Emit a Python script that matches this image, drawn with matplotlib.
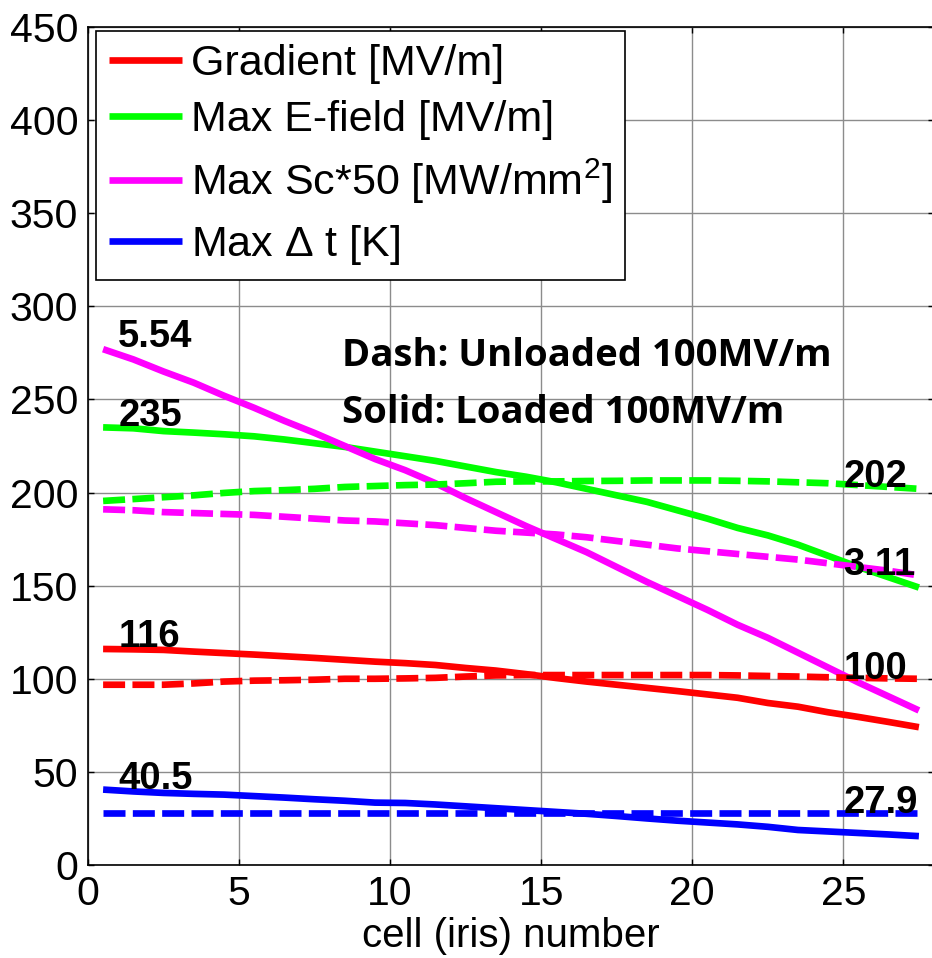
import matplotlib
matplotlib.use("Agg")
import matplotlib.pyplot as plt

# cell (iris) positions
cells = [0.5, 1.5, 2.5, 3.5, 4.5, 5.5, 6.5, 7.5, 8.5, 9.5, 10.5, 11.5, 12.5, 13.5,
         14.5, 15.5, 16.5, 17.5, 18.5, 19.5, 20.5, 21.5, 22.5, 23.5, 24.5, 25.5, 26.5, 27.5]

# loaded 100 MV/m (solid)
grad_loaded = [116, 115.8, 115.5, 114.6, 113.8, 113.0, 112.1, 111.2, 110.2, 109.2, 108.4, 107.4,
               105.8, 104.4, 102.5, 100.4, 98.5, 96.8, 95.1, 93.4, 91.6, 89.8, 87.0, 85.0, 82.0,
               79.5, 76.8, 74.0]
efield_loaded = [235, 234.5, 233, 232.2, 231.3, 230.2, 228.5, 226.5, 224.5, 222, 219.5, 217, 214,
                 211, 208.5, 205.5, 202, 198.5, 195, 190.5, 186, 181, 177, 172, 166, 160, 154.5, 149]
sc_loaded = [277, 271.5, 265, 259, 252, 245.5, 238.5, 232, 225, 218, 212, 205, 197, 189.5, 182,
             175, 168, 160, 152, 144.5, 137, 129, 122, 114, 106, 98, 90.5, 83]
dt_loaded = [40.5, 39.5, 38.7, 38.2, 37.8, 37.0, 36.2, 35.3, 34.5, 33.5, 33.3, 32.5, 31.5, 30.5,
             29.5, 28.5, 27.5, 26.3, 25.0, 23.8, 22.8, 21.8, 20.5, 18.8, 18.0, 17.2, 16.4, 15.5]

# unloaded 100 MV/m (dashed)
grad_unloaded = [96.8, 96.8, 96.8, 97.5, 98.5, 99.0, 99.2, 99.5, 100.0, 100.0, 100.2, 100.5,
                 101.2, 101.8, 102.0, 102.0, 102.0, 102.0, 102.0, 102.0, 102.0, 101.8, 101.5,
                 101.2, 100.8, 100.5, 100.2, 100.0]
efield_unloaded = [195.5, 196.5, 197.5, 198.5, 199.8, 200.8, 201.3, 202, 203, 203.5, 204, 204.3,
                   205, 205.8, 206, 206, 206.2, 206.3, 206.5, 206.5, 206.5, 206.3, 206, 205.5,
                   205, 204, 203, 202]
sc_unloaded = [191, 190.5, 189.5, 189, 188.5, 188, 187, 186, 185, 184.5, 183.5, 182.5, 181, 179.5,
               178.5, 177.5, 176, 174, 172, 170, 168.5, 167, 165.5, 164, 162, 160, 158, 155.5]
dt_unloaded = [27.9, 27.9, 27.9, 27.9, 27.9, 27.9, 27.9, 27.9, 27.9, 27.9, 27.9, 27.9, 27.9, 27.9,
               27.9, 27.9, 27.9, 27.9, 27.9, 27.9, 27.9, 27.9, 27.9, 27.9, 27.9, 27.9, 27.9, 27.9]

labels = ["Gradient [MV/m]", "Max E-field [MV/m]",
          "Max Sc*50 [MW/mm$^2$]", "Max $\\Delta$ t [K]"]
colors = ["#ff0000", "#00ff00", "#ff00ff", "#0000ff"]

plt.rcParams["font.family"] = ["Liberation Sans", "DejaVu Sans"]
plt.rcParams["mathtext.fontset"] = "custom"
plt.rcParams["mathtext.rm"] = "Liberation Sans"
plt.rcParams["mathtext.it"] = "Liberation Sans"

fig = plt.figure(figsize=(9.32, 9.58), dpi=100)
ax = fig.add_axes([88 / 932, 93 / 958, 846 / 932, 838 / 958])

lw = 4.8
dash = (0, (3.3, 1.1))
loaded = [grad_loaded, efield_loaded, sc_loaded, dt_loaded]
unloaded = [grad_unloaded, efield_unloaded, sc_unloaded, dt_unloaded]
for vals, c, lab in zip(loaded, colors, labels):
    ax.plot(cells, vals, color=c, lw=lw, label=lab, solid_capstyle="butt")
for vals, c in zip(unloaded, colors):
    ax.plot(cells, vals, color=c, lw=lw, linestyle=dash, dash_capstyle="butt")

# values at the ends (Sc label is the raw value, curve is Sc*50)
lab_kw = dict(fontsize=27.5, fontweight="bold", va="baseline", ha="left")
ax.text(1.0, sc_loaded[0] + 1, "%.2f" % (sc_loaded[0] / 50), **lab_kw)
ax.text(1.0, efield_loaded[0] + 1, "%d" % efield_loaded[0], **lab_kw)
ax.text(1.0, grad_loaded[0] + 1, "%d" % grad_loaded[0], **lab_kw)
ax.text(1.0, dt_loaded[0] + 0.5, "%.1f" % dt_loaded[0], **lab_kw)
ax.text(25.0, efield_unloaded[-1] + 1, "%d" % efield_unloaded[-1], **lab_kw)
ax.text(25.0, sc_unloaded[-1], "%.2f" % (sc_unloaded[-1] / 50), **lab_kw)
ax.text(25.0, grad_unloaded[-1], "%d" % grad_unloaded[-1], **lab_kw)
ax.text(25.0, dt_unloaded[-1], "%.1f" % dt_unloaded[-1], **lab_kw)

note_kw = dict(fontsize=27.5, fontweight="bold", family=["Open Sans", "DejaVu Sans"],
               va="baseline", ha="left")
ax.text(8.4, 268, "Dash: Unloaded 100MV/m", **note_kw)
ax.text(8.4, 237.5, "Solid: Loaded 100MV/m", **note_kw)

ax.set_xlim(0, 28)
ax.set_ylim(0, 450)
ax.set_xticks([0, 5, 10, 15, 20, 25])
ax.set_yticks(range(0, 451, 50))
ax.tick_params(direction="in", length=4, width=1, labelsize=29.5, pad=7,
               top=True, right=True)
ax.grid(True, color="#8c8c8c", lw=1)
ax.set_axisbelow(True)
for s in ax.spines.values():
    s.set_linewidth(1.2)
ax.set_xlabel("cell (iris) number", fontsize=29, labelpad=3)

leg = ax.legend(loc="upper left", fontsize=31, handlelength=1.7, handletextpad=0.2,
                labelspacing=0.38, borderpad=0.3, fancybox=False, framealpha=1,
                edgecolor="black", bbox_to_anchor=(0.0095, 0.995), borderaxespad=0)
leg.get_frame().set_linewidth(1.2)

fig.savefig("out.png", dpi=100)
